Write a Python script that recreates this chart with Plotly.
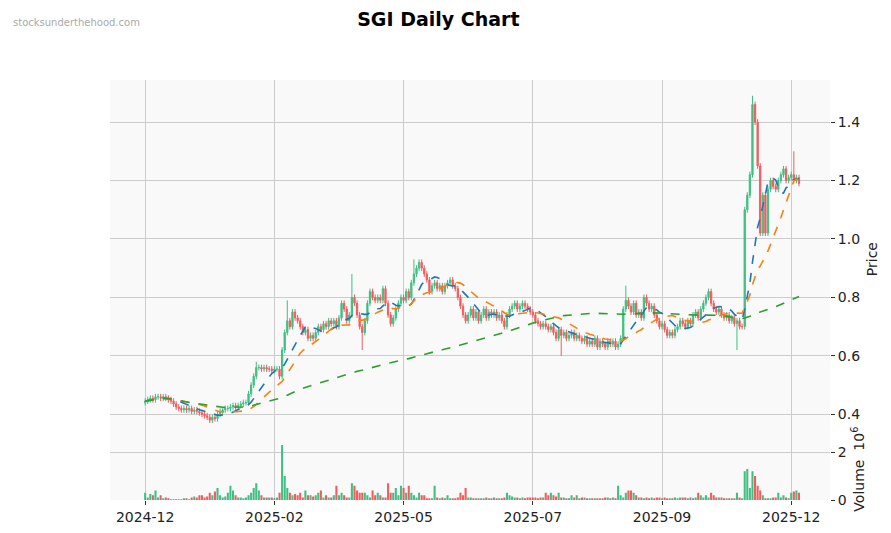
import plotly.graph_objects as go
from plotly.subplots import make_subplots
import pandas as pd

closes = [0.445,0.45,0.455,0.45,0.46,0.46,0.455,0.46,0.455,0.45,
 0.445,0.435,0.425,0.42,0.415,0.42,0.415,0.42,0.41,0.415,
 0.41,0.405,0.40,0.395,0.39,0.38,0.39,0.385,
 0.40,0.41,0.415,0.42,0.42,0.425,0.43,0.425,0.43,0.435,0.44,0.44,
 0.47,0.50,0.53,0.56,
 0.56,0.555,0.56,0.555,0.555,0.55,0.555,0.555,0.53,
 0.62,0.68,0.72,0.70,0.75,0.73,0.72,
 0.70,0.68,0.69,0.66,0.67,0.66,
 0.68,0.70,0.69,0.71,0.70,0.72,
 0.71,0.72,0.70,0.73,0.78,0.76,0.72,0.74,
 0.80,0.78,0.74,0.70,0.68,0.72,
 0.78,0.82,0.80,0.79,
 0.80,0.79,0.83,0.78,
 0.74,0.71,0.73,
 0.76,0.78,0.80,0.79,0.82,0.80,
 0.85,0.88,0.90,0.92,0.90,
 0.88,0.86,0.82,0.84,
 0.85,0.83,0.84,0.82,0.84,0.85,0.86,0.84,0.83,
 0.80,0.77,0.74,0.72,
 0.74,0.76,0.73,0.75,0.72,0.74,0.76,0.73,0.75,0.74,
 0.75,0.73,0.74,0.72,0.70,0.74,0.76,0.77,0.78,0.76,0.77,0.78,0.77,0.76,0.75,
 0.74,0.72,0.71,0.70,0.71,0.70,0.69,0.70,
 0.68,0.66,0.69,0.67,0.68,0.66,0.67,0.68,0.66,0.67,0.66,
 0.65,0.66,0.64,0.65,0.64,0.66,0.63,0.65,0.64,0.63,0.65,0.64,0.65,0.63,0.64,0.66,
 0.76,0.79,0.77,0.75,0.78,0.74,0.75,0.73,
 0.80,0.78,0.76,0.77,
 0.74,0.72,0.70,0.71,0.69,0.67,0.68,0.67,
 0.69,0.70,0.72,0.71,0.70,0.72,0.71,
 0.74,0.75,0.73,0.76,0.78,0.80,0.82,0.78,
 0.76,0.75,0.76,0.74,0.73,0.74,0.72,0.73,
 0.71,0.72,0.70,0.70,
 1.10,1.15,1.22,1.46,1.40,1.25,
 1.02,1.15,1.02,1.17,1.20,1.18,1.17,
 1.20,1.22,1.24,1.20,1.21,1.22,1.20,1.21,1.19]

volumes_m = [.3,.1,.25,.2,.4,.1,.2,.05,.1,.05,
 .02,.02,.02,.01,.02,.05,.05,.02,.1,.15,
 .1,.2,.2,.1,.15,.3,.2,.35,.5,.2,
 .1,.15,.3,.6,.4,.2,.1,.1,.05,.1,
 .2,.3,.5,.7,.4,.2,.1,.1,.1,.1,
 .05,.1,.3,2.3,1.0,.5,.3,.2,.25,.2,
 .3,.1,.4,.2,.2,.15,.2,.3,.4,.1,
 .2,.1,.1,.2,.6,.2,.3,.2,.1,.1,
 .7,.6,.4,.3,.3,.3,.2,.1,.4,.2,
 .3,.2,.1,.1,.7,.3,.3,.5,.2,.6,
 .5,.3,.6,.3,.2,.1,.3,.2,.2,.05,
 .05,.05,.6,.1,.05,.1,.05,.2,.05,.05,
 .05,.1,.3,.2,.5,.1,.1,.05,.05,.05,
 .05,.05,.1,.05,.05,.1,.05,.05,.05,.1,
 .3,.2,.15,.1,.1,.05,.1,.05,.1,.1,
 .1,.1,.05,.1,.1,.3,.2,.3,.2,.15,
 .3,.1,.1,.05,.05,.2,.1,.2,.05,.1,
 .1,.05,.05,.05,.05,.05,.05,.05,.1,.1,
 .05,.1,.05,.6,.2,.1,.3,.4,.4,.3,
 .2,.1,.1,.05,.1,.05,.1,.05,.1,.1,
 .05,.1,.05,.05,.05,.1,.05,.1,.1,.1,
 .05,.1,.05,.1,.3,.2,.1,.2,.1,.3,
 .2,.1,.1,.1,.05,.05,.05,.05,.05,.3,
 .1,.05,1.2,1.3,.5,1.2,1.0,.6,.4,.2,
 .05,.05,.05,.1,.1,.3,.1,.2,.1,.05,
 .3,.35,.4,.3]

tick_positions = [0, 50, 100, 150, 200, 250]
tick_labels = ["2024-12", "2025-02", "2025-05", "2025-07", "2025-09", "2025-12"]
wick_overrides = {43: (0.58, None), 55: (0.79, None), 80: (0.88, None), 84: (None, 0.62),
                  104: (0.93, None), 161: (None, 0.60), 186: (0.84, None),
                  229: (None, 0.62), 235: (1.49, None), 236: (1.47, None), 251: (1.30, None)}

n = len(closes)
idx = list(range(n))
opens = [0.44] + closes[:-1]
highs = [max(o, c) + 0.01 for o, c in zip(opens, closes)]
lows = [min(o, c) - 0.01 for o, c in zip(opens, closes)]
for k, (h, l) in wick_overrides.items():
    if h is not None: highs[k] = h
    if l is not None: lows[k] = l
volumes = [v * 1e6 for v in volumes_m]

UP, DN = "#3fbf82", "#f25c5c"
s = pd.Series(closes)
ma_fast = s.rolling(10, min_periods=1).mean()
ma_mid = s.rolling(20, min_periods=1).mean()
ma_slow = s.rolling(120, min_periods=1).mean()

fig = make_subplots(rows=2, cols=1, shared_xaxes=True, vertical_spacing=0.0,
                    row_heights=[0.853, 0.147])
fig.add_trace(go.Candlestick(x=idx, open=opens, high=highs, low=lows, close=closes,
    increasing=dict(line=dict(color=UP, width=1), fillcolor=UP),
    decreasing=dict(line=dict(color=DN, width=1), fillcolor=DN),
    whiskerwidth=0, showlegend=False), row=1, col=1)
for ma, col in [(ma_fast, "#1f77b4"), (ma_mid, "#ff7f0e"), (ma_slow, "#2ca02c")]:
    fig.add_trace(go.Scatter(x=idx, y=ma, mode="lines", line=dict(color=col, width=1.6, dash="dash"),
                             showlegend=False), row=1, col=1)
vcol = [UP if c >= o else DN for o, c in zip(opens, closes)]
fig.add_trace(go.Bar(x=idx, y=volumes, marker=dict(color=vcol, line=dict(width=0)),
                     showlegend=False), row=2, col=1)

ax = dict(showgrid=True, gridcolor="#cccccc", zeroline=False, showline=False, automargin=False,
          tickfont=dict(size=14, color="#222"))
fig.update_xaxes(**ax, range=[-13.6, 265], tickvals=tick_positions, ticktext=tick_labels,
                 rangeslider_visible=False, ticks="outside", ticklen=4, tickcolor="#333")
fig.update_xaxes(showticklabels=False, ticks="", row=1, col=1)
fig.update_yaxes(**ax, side="right", ticks="outside", ticklen=4, tickcolor="#333")
fig.update_yaxes(range=[0.318, 1.544], tickvals=[0.4, 0.6, 0.8, 1.0, 1.2, 1.4],
                 tickformat=".1f", title=dict(text="Price", font=dict(size=14), standoff=8), row=1, col=1)
fig.update_yaxes(range=[0, 2.58e6], tickvals=[0, 2e6], ticktext=["0", "2"],
                 title=dict(text="Volume  10<sup>6</sup>", font=dict(size=14), standoff=8), row=2, col=1)

fig.update_layout(width=891, height=533, margin=dict(l=102, r=69, t=72, b=41, autoexpand=False),
    paper_bgcolor="white", plot_bgcolor="#f9f9f9", bargap=0.2,
    font=dict(family="DejaVu Sans", color="#222"),
    title=dict(text="<b>SGI Daily Chart</b>", x=0.483, y=1 - 11/533, xanchor="center", yanchor="middle",
               font=dict(size=19, color="black")),
    annotations=[dict(text="stocksunderthehood.com", xref="paper", yref="paper",
                      x=-0.1375, y=1.138, xanchor="left", yanchor="middle", showarrow=False,
                      font=dict(size=10, color="#aaaaaa"))])
fig.write_html("out.html")
